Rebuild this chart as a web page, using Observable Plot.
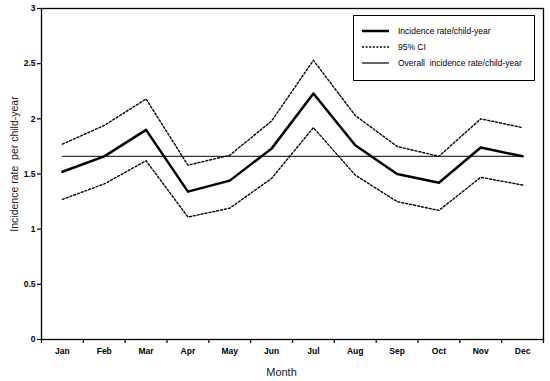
<!DOCTYPE html>
<html><head><meta charset="utf-8">
<script src="https://cdn.jsdelivr.net/npm/d3@7"></script>
<script src="https://cdn.jsdelivr.net/npm/@observablehq/plot@0.6"></script>
<style>
body{margin:0;background:#fff;font-family:"Liberation Sans",Arial,sans-serif;}
#wrap{position:relative;width:550px;height:381px;}
#legend{position:absolute;left:353px;top:15px;width:182px;height:66px;border:1.5px solid #000;background:#fff;box-sizing:border-box;font-size:8.5px;}
#legend .row{position:absolute;left:8px;height:12px;display:flex;align-items:center;}
#legend svg{width:27px;height:6px;margin-right:9px;}
</style></head><body>
<div id="wrap"><div id="chart"></div>
<div id="legend">
 <div class="row" style="top:9px"><svg><line x1="0" x2="27" y1="3" y2="3" stroke="#000" stroke-width="2.5"/></svg>Incidence rate/child-year</div>
 <div class="row" style="top:25px"><svg><line x1="0" x2="27" y1="3" y2="3" stroke="#000" stroke-width="1.3" stroke-dasharray="2,1.6"/></svg>95% CI</div>
 <div class="row" style="top:41px"><svg><line x1="0" x2="27" y1="3" y2="3" stroke="#000" stroke-width="1.2"/></svg>Overall&nbsp; incidence rate/child-year</div>
</div></div>
<script>
const months = ["Jan","Feb","Mar","Apr","May","Jun","Jul","Aug","Sep","Oct","Nov","Dec"];
const rate  = [1.52,1.66,1.90,1.34,1.44,1.73,2.23,1.76,1.50,1.42,1.74,1.66];
const upper = [1.77,1.94,2.18,1.58,1.67,1.98,2.53,2.03,1.75,1.66,2.00,1.92];
const lower = [1.27,1.41,1.62,1.11,1.19,1.46,1.92,1.49,1.25,1.17,1.47,1.40];
const overall = 1.66;
const yTicks = [0,0.5,1,1.5,2,2.5,3];

const idx = months.map((m,i)=>i+0.5);
const chart = Plot.plot({
  width:550, height:381,
  marginLeft:41, marginRight:7, marginTop:8, marginBottom:42,
  style:{fontFamily:"'Liberation Sans', Arial, sans-serif", background:"#fff"},
  x:{domain:[0,12], axis:null},
  y:{domain:[0,3], axis:null},
  marks:[
    Plot.frame({stroke:"#000", strokeWidth:1.3}),
    Plot.axisY({ticks:yTicks, tickSize:4, tickPadding:2, fontSize:8.5, fontWeight:"bold", label:null, strokeWidth:1.2, tickFormat:d=>String(d)}),
    Plot.axisX({ticks:d3.range(0,13), tickSize:4, tickFormat:()=>"", label:null, strokeWidth:1.2}),
    Plot.axisX({ticks:idx, tickSize:0, tickPadding:8, fontSize:8.5, fontWeight:"bold", tickFormat:v=>months[Math.floor(v)], label:null}),
    Plot.lineY(months, {x:(d,i)=>i+0.5, y:()=>overall, stroke:"#333", strokeWidth:1.2}),
    Plot.lineY(months, {x:(d,i)=>i+0.5, y:(d,i)=>upper[i], stroke:"#000", strokeWidth:1.4, strokeDasharray:"2,2"}),
    Plot.lineY(months, {x:(d,i)=>i+0.5, y:(d,i)=>lower[i], stroke:"#000", strokeWidth:1.4, strokeDasharray:"2,2"}),
    Plot.lineY(months, {x:(d,i)=>i+0.5, y:(d,i)=>rate[i], stroke:"#000", strokeWidth:2.5}),
    Plot.text(["Month"], {frameAnchor:"bottom", lineAnchor:"middle", textAnchor:"middle", dx:-11, dy:33, fontSize:11, fill:"#222"}),
    Plot.text(["Incidence rate  per child-year"], {frameAnchor:"left", rotate:-90, textAnchor:"middle", lineAnchor:"middle", dx:-27, dy:-10, fontSize:10.5, fill:"#222"})
  ]
});
document.getElementById("chart").appendChild(chart);
</script></body></html>
